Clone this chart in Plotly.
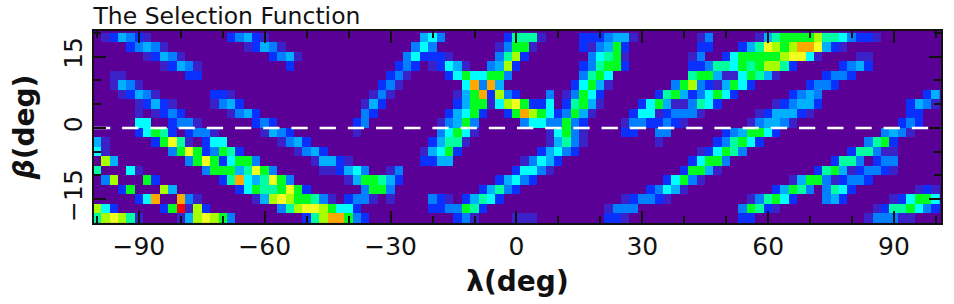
import plotly.graph_objects as go

# Cells: ecliptic longitude (even degrees) by latitude (odd degrees). Level by column index.
lon_deg = list(range(-100, 102, 2))
lat_deg = list(range(-19, 21, 2))

b_p19 = {1:1,2:2,3:4,4:3,5:2,6:1,16:2,17:3,18:4,19:2,20:1,39:4,40:5,41:3,49:2,50:6,51:6,52:6,53:1,58:2,59:2,60:2,61:3,62:4,63:4,64:1,72:1,73:3,79:1,80:4,81:6,82:7,83:7,84:7,85:7,86:8,87:6,88:6,89:5,90:3,91:2,92:2,93:1}
b_p17 = {4:2,5:3,6:4,7:3,8:1,18:1,19:2,20:4,21:3,22:1,38:3,39:5,40:3,48:1,49:3,50:7,51:7,52:1,58:2,59:1,60:3,61:4,62:7,63:2,72:2,73:2,77:2,78:4,79:6,80:9,81:8,82:7,83:8,84:10,85:10,86:9,87:4,88:2,89:1}
b_p15 = {6:1,7:2,8:4,9:3,10:1,21:2,22:3,23:4,24:1,37:3,38:5,39:2,40:2,41:2,42:1,48:3,49:6,50:8,51:2,59:3,60:5,61:6,62:7,63:1,71:1,72:3,75:2,76:5,77:7,78:7,79:7,80:7,81:7,82:8,83:9,84:9,85:5,86:1,91:1,92:1}
b_p13 = {8:1,9:2,10:4,11:3,12:1,23:2,36:2,37:3,38:2,40:1,41:2,42:5,43:4,44:1,47:3,48:4,49:8,50:2,58:2,59:3,60:6,61:7,62:7,63:2,71:2,72:2,73:3,74:6,75:6,76:5,77:7,78:6,79:7,80:8,81:8,82:6,83:2,89:2,90:3,91:4,92:2}
b_p11 = {2:1,3:1,11:2,12:2,35:2,36:3,37:1,42:2,43:5,44:7,45:5,46:5,47:7,48:7,49:3,58:3,59:6,60:7,61:5,71:6,72:7,73:7,74:4,75:1,76:1,77:5,78:7,79:6,80:4,81:1,87:2,88:3,89:3,90:2}
b_p09 = {2:1,3:4,4:3,5:1,34:2,35:3,36:1,44:5,45:10,46:3,47:10,48:4,57:2,58:5,59:7,60:4,61:1,69:3,70:7,71:8,72:3,73:2,74:1,75:4,76:7,77:5,78:2,85:2,86:3,87:3,88:2}
b_p07 = {3:1,4:2,5:4,6:3,7:1,14:2,15:2,16:1,33:1,34:3,35:1,43:1,44:4,45:7,46:10,47:2,48:8,49:3,50:2,54:3,56:1,57:3,58:7,59:5,60:2,67:2,68:6,69:7,70:4,71:2,72:3,73:5,74:7,75:5,76:2,83:2,84:3,85:4,86:3,99:2,100:4}
b_p05 = {5:1,6:2,7:4,8:2,9:1,14:1,15:3,16:4,17:2,32:1,33:4,34:2,43:2,44:4,45:7,46:7,47:1,48:5,49:8,50:9,51:7,52:2,53:2,54:5,56:2,57:6,58:7,59:4,60:1,65:2,66:5,67:7,68:4,69:1,70:1,71:3,72:6,73:5,74:2,81:1,82:2,83:3,84:4,85:4,86:2,97:2,98:4,99:3,100:1}
b_p03 = {5:1,7:1,8:2,9:3,10:2,16:1,17:3,18:4,19:2,32:3,33:2,42:2,43:4,44:5,45:7,46:2,49:2,50:7,51:10,52:8,53:7,54:5,55:2,56:3,57:7,58:4,59:1,64:2,65:5,66:5,67:1,68:2,69:3,70:3,71:3,72:1,79:1,80:2,81:4,82:4,83:4,84:2,85:1,97:2,98:2}
b_p01 = {5:5,6:5,9:2,10:3,11:3,12:1,19:2,20:3,21:2,31:2,32:3,41:1,42:3,43:4,44:7,45:3,51:3,52:5,53:5,54:3,55:3,56:7,57:3,58:2,63:1,64:3,65:3,66:2,67:2,68:3,69:2,70:1,78:1,79:3,80:4,81:4,82:3,83:1,96:2,97:3,98:2}
b_m01 = {5:2,6:5,7:7,8:6,9:2,11:2,12:3,13:3,14:1,20:1,21:4,22:3,23:2,31:1,41:3,42:5,43:7,44:5,45:1,54:1,55:5,56:7,57:3,58:1,63:2,64:2,67:3,68:3,75:2,76:3,77:4,78:7,79:7,80:5,81:2,94:3,95:4,96:3,97:1}
b_m03 = {0:4,1:1,7:2,8:7,9:9,10:6,11:1,13:2,14:5,15:5,22:1,23:3,24:4,25:2,40:2,41:4,42:6,43:6,44:1,54:1,55:4,56:6,57:3,58:1,67:1,74:2,75:3,76:6,77:7,78:5,79:2,92:3,93:6,94:7,95:2}
b_m05 = {0:5,1:1,9:3,10:7,11:9,12:7,13:2,14:3,15:7,16:6,17:2,24:1,25:3,26:4,27:2,39:1,40:4,41:5,42:7,43:2,53:2,54:4,55:5,56:3,57:2,72:1,73:2,74:5,75:7,76:6,77:3,90:2,91:6,92:6,93:3,94:1,95:1}
b_m07 = {1:8,2:4,11:3,12:7,13:9,14:7,15:2,16:5,17:7,18:7,19:3,26:1,27:4,28:4,29:2,30:1,39:2,40:2,41:4,42:4,51:1,52:3,53:5,54:4,55:2,71:2,72:5,73:7,74:7,75:3,88:2,89:6,90:6,91:3,93:2,94:3,95:3}
b_m09 = {0:6,4:5,5:1,13:3,14:7,15:7,16:7,17:4,18:6,19:9,20:7,21:3,27:1,28:1,29:2,30:4,31:5,32:3,35:1,36:3,50:2,51:5,52:5,53:3,54:1,70:2,71:7,72:7,73:4,74:1,86:2,87:6,88:7,89:4,90:1,91:2,92:3,93:3,94:2,95:1}
b_m11 = {1:3,2:8,6:7,7:2,15:2,16:6,17:10,18:5,19:4,20:6,21:9,22:7,23:3,30:1,31:4,32:7,33:7,34:6,35:4,36:2,48:2,49:4,50:5,51:3,52:2,68:2,69:5,70:7,71:3,72:1,83:1,84:4,85:7,86:7,87:3,88:1,89:2,90:3,91:3,92:2}
b_m13 = {3:2,4:7,8:8,9:4,17:2,18:5,19:7,20:6,21:6,22:7,23:9,24:7,25:2,32:3,33:7,34:7,35:3,46:2,47:4,48:6,49:3,50:2,66:2,67:3,68:5,69:4,70:1,81:2,82:4,83:7,84:6,85:3,87:3,88:6,89:5,90:2,98:1,99:2,100:1}
b_m15 = {5:2,6:5,7:10,10:10,11:3,12:1,19:1,20:4,21:8,22:9,23:8,24:7,25:7,26:6,27:3,28:1,30:2,31:3,32:3,33:1,35:1,40:3,41:2,42:1,44:2,45:4,46:6,47:5,48:2,63:1,64:2,65:3,66:3,67:2,68:1,78:1,79:3,80:6,81:7,82:5,83:2,87:3,88:4,89:2,95:1,96:2,97:5,98:7,99:7,100:5}
b_m17 = {0:8,1:5,2:2,8:2,9:7,10:11,11:1,12:8,13:2,22:3,23:6,24:8,25:9,26:9,27:8,28:7,29:5,30:5,31:2,40:2,41:2,42:3,43:3,44:7,45:6,46:2,61:1,62:3,63:3,64:3,77:3,78:7,79:6,80:2,81:1,93:1,94:2,95:6,96:6,97:7,98:5,99:3,100:2}
b_m19 = {0:6,1:8,2:9,3:8,4:6,5:1,10:1,11:4,12:8,13:9,14:8,15:7,16:3,25:2,26:6,27:8,28:10,29:10,30:7,31:3,32:2,43:2,44:3,45:1,50:1,51:1,52:1,61:2,62:2,63:1,77:2,78:2,92:1,93:3,94:3,95:3,96:1,97:1}

rows_south_to_north = [b_m19, b_m17, b_m15, b_m13, b_m11, b_m09, b_m07, b_m05, b_m03, b_m01,
                       b_p01, b_p03, b_p05, b_p07, b_p09, b_p11, b_p13, b_p15, b_p17, b_p19]

x_ticks = [-90, -60, -30, 0, 30, 60, 90]
y_ticks = [-15, 0, 15]
zero_line_lon = [-100.7, 101.2]
zero_line_lat = [0, 0]

z = [[row.get(i, 0) for i in range(len(lon_deg))] for row in rows_south_to_north]

level_colors = ["#5a0096", "#3a22c8", "#0a30ff", "#0080ff", "#00b0ff", "#00ffff",
                "#00ffa0", "#00ff20", "#a8ff00", "#f0ff20", "#ffa800", "#ff0000"]
colorscale = [[i / 11, c] for i, c in enumerate(level_colors)]

fig = go.Figure()
fig.add_trace(go.Heatmap(x=lon_deg, y=lat_deg, z=z, zmin=0, zmax=11,
                         colorscale=colorscale, showscale=False, hoverinfo="skip"))
fig.add_trace(go.Scatter(x=zero_line_lon, y=zero_line_lat, mode="lines", hoverinfo="skip",
                         line=dict(color="white", width=2.5, dash="16.3px,11.9px"),
                         showlegend=False))

tick_font = dict(family="DejaVu Sans", size=25, color="#111")
axis_common = dict(showgrid=False, zeroline=False, showline=True, linecolor="#111", linewidth=2,
                   mirror="allticks", ticks="inside", ticklen=12, tickwidth=2, tickcolor="#111",
                   tickfont=tick_font)
fig.update_xaxes(range=[-100.7, 101.2], tickmode="array", tickvals=x_ticks, **axis_common,
                 minor=dict(dtick=10, tick0=0, ticks="inside", ticklen=7, tickwidth=2, tickcolor="#111", showgrid=False),
                 title=dict(text="<b>λ(deg)</b>", font=dict(family="DejaVu Sans", size=28, color="#111"), standoff=11))
fig.update_yaxes(range=[-20, 20.4], tickmode="array", tickvals=y_ticks, tickangle=-90, **axis_common,
                 minor=dict(dtick=5, tick0=0, ticks="inside", ticklen=7, tickwidth=2, tickcolor="#111", showgrid=False),
                 title=dict(text="<b><i>β</i>(deg)</b>", font=dict(family="DejaVu Sans", size=28, color="#111"), standoff=16))
fig.update_layout(width=954, height=304, autosize=False,
                  margin=dict(l=93.5, r=13, t=31, b=81),
                  plot_bgcolor="#5a0096", paper_bgcolor="white", showlegend=False,
                  title=dict(text="The Selection Function", x=93.5 / 954, xanchor="left", y=1 - 24 / 304, yanchor="bottom",
                             yref="container", font=dict(family="DejaVu Sans", size=23.5, color="#111"), pad=dict(l=0, b=0)))
fig.write_html("out.html", config={"displayModeBar": False},
               post_script="document.body.style.margin='0';document.body.style.overflow='hidden';")
